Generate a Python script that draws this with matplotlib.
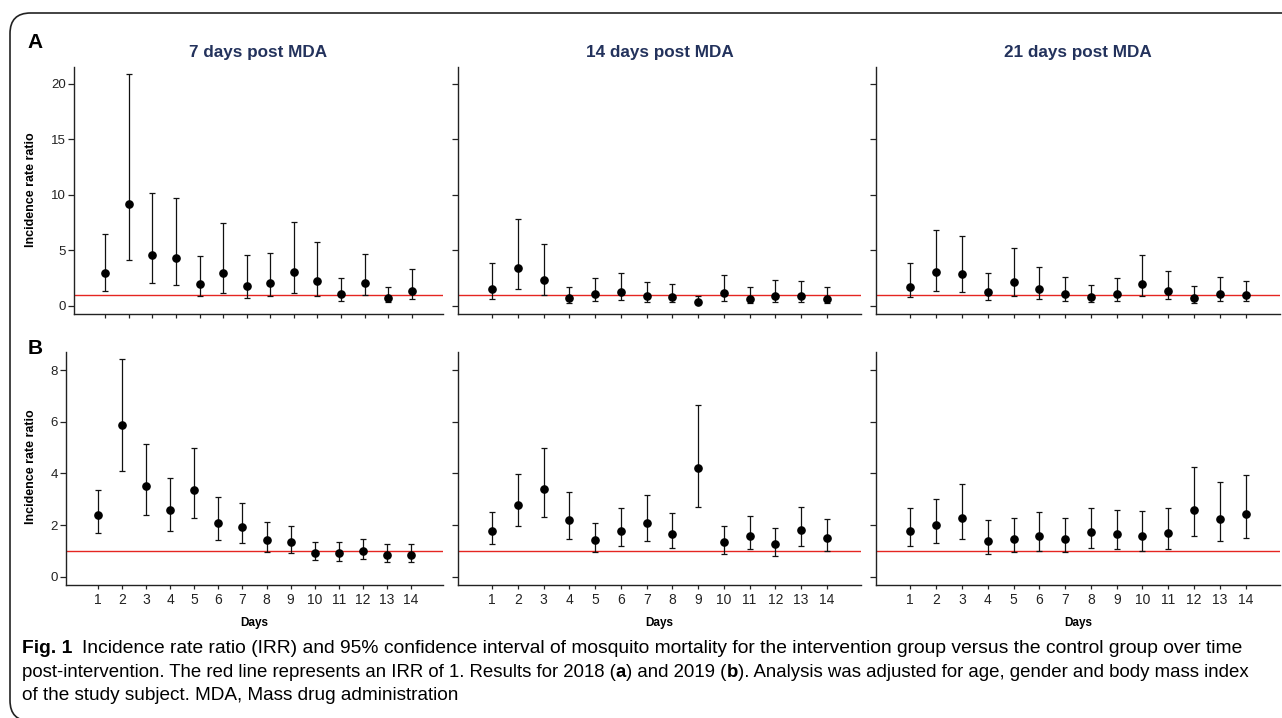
import matplotlib
matplotlib.use('Agg')
import matplotlib.pyplot as plt
from matplotlib import font_manager
from matplotlib.patches import FancyBboxPatch

_names = {f.name for f in font_manager.fontManager.ttflist}
SANS = 'Liberation Sans' if 'Liberation Sans' in _names else 'DejaVu Sans'
NARROW = 'Liberation Sans Narrow' if 'Liberation Sans Narrow' in _names else SANS
plt.rcParams['font.family'] = [SANS, 'DejaVu Sans']

# ---- data (IRR with 95% CI) ----
days = list(range(1, 15))
titles = ['7 days post MDA', '14 days post MDA', '21 days post MDA']

# 2018 (row A)
a7_irr = [2.96, 9.22, 4.58, 4.34, 1.95, 2.99, 1.80, 2.07, 3.02, 2.22, 1.08, 2.07, 0.75, 1.38]
a7_lo  = [1.35, 4.10, 2.04, 1.92, 0.87, 1.17, 0.72, 0.93, 1.20, 0.90, 0.45, 0.96, 0.33, 0.60]
a7_hi  = [6.50, 20.84, 10.21, 9.73, 4.52, 7.43, 4.61, 4.79, 7.60, 5.72, 2.51, 4.70, 1.74, 3.35]

a14_irr = [1.56, 3.44, 2.34, 0.72, 1.08, 1.23, 0.87, 0.84, 0.33, 1.17, 0.63, 0.87, 0.90, 0.66]
a14_lo  = [0.63, 1.50, 0.99, 0.30, 0.45, 0.51, 0.36, 0.36, 0.15, 0.48, 0.24, 0.33, 0.36, 0.27]
a14_hi  = [3.83, 7.81, 5.60, 1.68, 2.54, 2.99, 2.13, 1.95, 0.90, 2.81, 1.71, 2.31, 2.25, 1.74]

a21_irr = [1.74, 3.05, 2.84, 1.29, 2.16, 1.50, 1.11, 0.78, 1.08, 1.95, 1.38, 0.75, 1.08, 0.99]
a21_lo  = [0.81, 1.38, 1.26, 0.57, 0.93, 0.66, 0.48, 0.33, 0.48, 0.87, 0.63, 0.30, 0.45, 0.45]
a21_hi  = [3.83, 6.86, 6.32, 2.93, 5.18, 3.47, 2.57, 1.92, 2.49, 4.55, 3.14, 1.77, 2.57, 2.28]

# 2019 (row B)
b7_irr = [2.38, 5.87, 3.50, 2.60, 3.35, 2.08, 1.91, 1.41, 1.34, 0.93, 0.90, 0.99, 0.85, 0.84]
b7_lo  = [1.68, 4.08, 2.39, 1.77, 2.26, 1.41, 1.30, 0.96, 0.90, 0.65, 0.61, 0.67, 0.57, 0.56]
b7_hi  = [3.37, 8.44, 5.14, 3.84, 4.97, 3.09, 2.84, 2.11, 1.96, 1.33, 1.36, 1.47, 1.28, 1.27]

b14_irr = [1.77, 2.78, 3.40, 2.20, 1.42, 1.78, 2.07, 1.64, 4.22, 1.33, 1.56, 1.25, 1.80, 1.50]
b14_lo  = [1.25, 1.95, 2.33, 1.47, 0.97, 1.20, 1.37, 1.10, 2.69, 0.89, 1.06, 0.81, 1.20, 0.99]
b14_hi  = [2.52, 3.98, 4.97, 3.27, 2.09, 2.67, 3.17, 2.47, 6.65, 1.96, 2.36, 1.90, 2.71, 2.25]

b21_irr = [1.78, 1.99, 2.29, 1.40, 1.46, 1.59, 1.46, 1.72, 1.67, 1.59, 1.71, 2.58, 2.25, 2.44]
b21_lo  = [1.19, 1.32, 1.47, 0.88, 0.94, 1.01, 0.94, 1.10, 1.07, 1.01, 1.07, 1.56, 1.40, 1.51]
b21_hi  = [2.67, 3.02, 3.58, 2.21, 2.29, 2.52, 2.29, 2.67, 2.60, 2.56, 2.67, 4.26, 3.68, 3.94]

row_a = [(a7_irr, a7_lo, a7_hi), (a14_irr, a14_lo, a14_hi), (a21_irr, a21_lo, a21_hi)]
row_b = [(b7_irr, b7_lo, b7_hi), (b14_irr, b14_lo, b14_hi), (b21_irr, b21_lo, b21_hi)]

# ---- figure / layout in pixels ----
W, H = 1282, 718
fig = plt.figure(figsize=(W / 100, H / 100), dpi=100)

def px_axes(x0, x1, ytop, ybot):
    return fig.add_axes([x0 / W, (H - ybot) / H, (x1 - x0) / W, (ybot - ytop) / H])

# frame around the figure (rounded, open past the right / bottom edge)
frame = FancyBboxPatch((10 / W, (H - 721) / H), 1400 / W, (721 - 13) / H,
                       boxstyle='round,pad=0,rounding_size=0.016',
                       transform=fig.transFigure, fill=False, lw=1.2,
                       ec='#222222', mutation_aspect=W / H)
fig.patches.append(frame)

cols_x = [(74, 443), (458, 861), (876, 1280)]
cols_x_b = [(66, 443), (458, 861), (876, 1280)]
TITLE_C = '#23325C'
RED = '#E52521'

def draw(ax, irr, lo, hi, ylim, yticks, show_ylabels, show_xlabels):
    err = [[v - l for v, l in zip(irr, lo)], [h - v for v, h in zip(irr, hi)]]
    ax.axhline(1, color=RED, lw=1.0, zorder=1)
    ax.errorbar(days, irr, yerr=err, fmt='o', color='black', ms=5.2,
                elinewidth=0.9, capsize=2.2, capthick=0.9, ecolor='#111111', zorder=3)
    ax.set_xlim(-0.33, 15.33)
    ax.set_ylim(*ylim)
    ax.set_xticks(days)
    ax.set_yticks(yticks)
    for s in ['top', 'right']:
        ax.spines[s].set_visible(False)
    for s in ['left', 'bottom']:
        ax.spines[s].set_linewidth(1.0)
        ax.spines[s].set_color('#222222')
    ax.tick_params(axis='y', direction='out', length=4.3, width=0.9, pad=1.5,
                   labelsize=9.5, colors='#222222', labelleft=show_ylabels)
    ax.tick_params(axis='x', direction='out', length=3.2, width=0.9, pad=2.5,
                   labelsize=10, colors='#222222', labelbottom=show_xlabels)

for i in range(3):
    x0, x1 = cols_x[i]
    ax = px_axes(x0, x1, 66.7, 314)
    draw(ax, *row_a[i], ylim=(-0.72, 21.53), yticks=[0, 5, 10, 15, 20],
         show_ylabels=(i == 0), show_xlabels=False)
    fig.text((x0 + x1) / 2 / W, (H - 53) / H, titles[i], ha='center', va='center',
             fontsize=12.3, fontweight='bold', color=TITLE_C)

    x0, x1 = cols_x_b[i]
    ax = px_axes(x0, x1, 351.7, 584.7)
    draw(ax, *row_b[i], ylim=(-0.31, 8.72), yticks=[0, 2, 4, 6, 8],
         show_ylabels=(i == 0), show_xlabels=True)
    fig.text((x0 + x1) / 2 / W, (H - 623) / H, 'Days', ha='center', va='center',
             fontsize=8.5, fontweight='bold', family=[NARROW, 'DejaVu Sans'])

# panel letters and y labels
fig.text(35 / W, (H - 43) / H, 'A', ha='center', va='center', fontsize=15, fontweight='bold')
fig.text(35 / W, (H - 348) / H, 'B', ha='center', va='center', fontsize=15, fontweight='bold')
for yc in [190, 467]:
    fig.text(31 / W, (H - yc) / H, 'Incidence rate ratio', rotation=90, ha='center',
             va='center', fontsize=9, fontweight='bold')

# ---- caption (mixed bold / regular pieces placed one after another) ----
cap_font = [NARROW, 'DejaVu Sans']

def rich_line(x, ybase, pieces, fs):
    prev = None
    for s, w, gap in pieces:
        if prev is None:
            prev = fig.text(x / W, (H - ybase) / H, s, ha='left', va='bottom',
                            fontsize=fs, fontweight=w, family=cap_font)
        else:
            prev = fig.add_artist(matplotlib.text.Annotation(
                s, xy=(1, 0), xycoords=prev, xytext=(gap, 0), textcoords='offset points',
                ha='left', va='bottom', fontsize=fs, fontweight=w, family=cap_font))

rich_line(22, 657, [('Fig. 1', 'bold', 0),
                    ('Incidence rate ratio (IRR) and 95% confidence interval of mosquito mortality '
                     'for the intervention group versus the control group over time', 'normal', 7)],
          fs=13.9)
rich_line(22, 681, [('post-intervention. The red line represents an IRR of 1. Results for 2018 (',
                     'normal', 0), ('a', 'bold', 0),
                    (') and 2019 (', 'normal', 0), ('b', 'bold', 0),
                    ('). Analysis was adjusted for age, gender and body mass index', 'normal', 0)],
          fs=13.45)
rich_line(22, 704, [('of the study subject. MDA, Mass drug administration', 'normal', 0)],
          fs=13.7)

fig.savefig('out.png', dpi=100, facecolor='white')
